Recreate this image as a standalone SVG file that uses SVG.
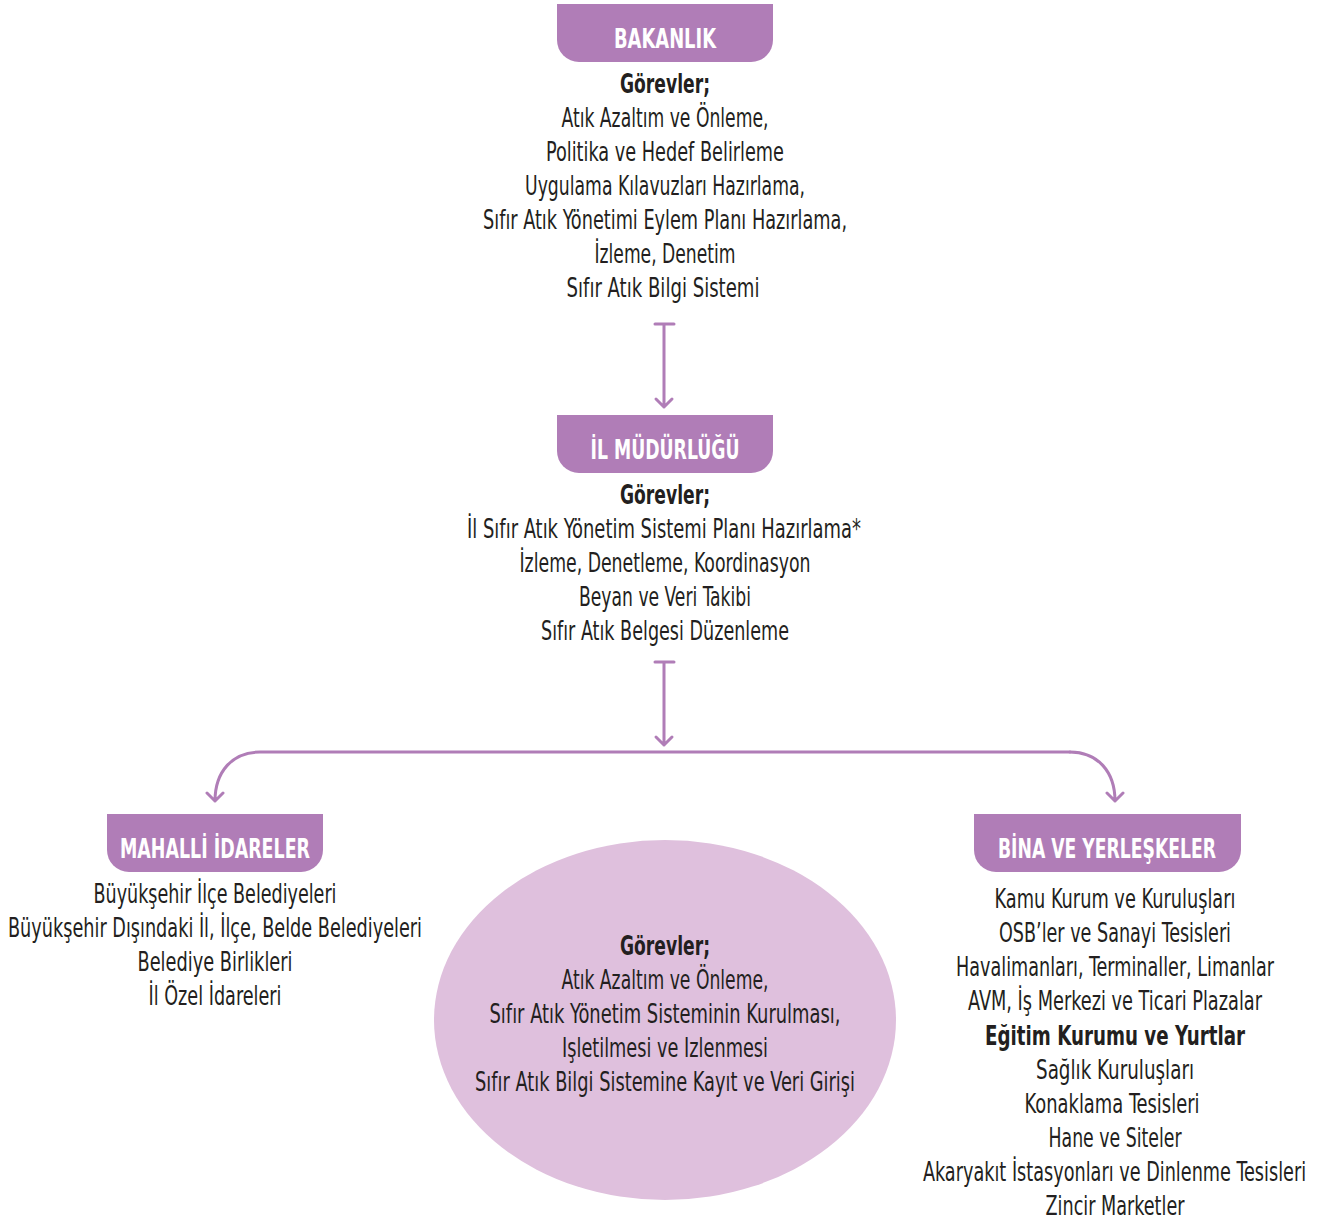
<svg xmlns="http://www.w3.org/2000/svg" width="1317" height="1221" viewBox="0 0 1317 1221">
<style>
.lbl{fill:#B07DB7}
.lt{font-family:"Liberation Sans Narrow","DejaVu Sans Condensed","Liberation Sans",sans-serif;font-weight:bold;font-size:26px;fill:#fff;text-anchor:middle}
.t{font-family:"Liberation Sans Narrow","DejaVu Sans Condensed","Liberation Sans",sans-serif;font-size:26px;fill:#231F20;text-anchor:middle}
.b{font-weight:bold}
.con{fill:none;stroke:#B07DB7;stroke-width:3;stroke-linecap:round;stroke-linejoin:round}
</style>
<rect width="1317" height="1221" fill="#fff"/>
<g id="connectors">
<path class="con" d="M655,324 H674 M664,324 V407 M656,399 L664,407 L672,399"/>
<path class="con" d="M655,662 H674 M664,662 V745 M656,737 L664,745 L672,737"/>
<path class="con" d="M1070,752 H260 C232,752 215,772 215,801 M207,793 L215,801 L223,793"/>
<path class="con" d="M1070,752 C1098,752 1115,772 1115,801 M1107,793 L1115,801 L1123,793"/>
</g>
<g id="bakanlik">
<path class="lbl" d="M557,4 H773 V40 A22,22 0 0 1 751,62 H579 A22,22 0 0 1 557,40 Z"/>
<text class="lt" x="665" y="48" textLength="102" lengthAdjust="spacingAndGlyphs">BAKANLIK</text>
<text class="t b" x="665" y="93" textLength="90" lengthAdjust="spacingAndGlyphs">Görevler;</text>
<text class="t" x="665" y="127" textLength="207" lengthAdjust="spacingAndGlyphs">Atık Azaltım ve Önleme,</text>
<text class="t" x="665" y="161" textLength="238" lengthAdjust="spacingAndGlyphs">Politika ve Hedef Belirleme</text>
<text class="t" x="665" y="195" textLength="280" lengthAdjust="spacingAndGlyphs">Uygulama Kılavuzları Hazırlama,</text>
<text class="t" x="665" y="229" textLength="364" lengthAdjust="spacingAndGlyphs">Sıfır Atık Yönetimi Eylem Planı Hazırlama,</text>
<text class="t" x="665" y="263" textLength="141" lengthAdjust="spacingAndGlyphs">İzleme, Denetim</text>
<text class="t" x="663" y="297" textLength="193" lengthAdjust="spacingAndGlyphs">Sıfır Atık Bilgi Sistemi</text>
</g>
<g id="il-mudurlugu">
<path class="lbl" d="M557,415 H773 V451 A22,22 0 0 1 751,473 H579 A22,22 0 0 1 557,451 Z"/>
<text class="lt" x="665" y="459" textLength="149" lengthAdjust="spacingAndGlyphs">İL MÜDÜRLÜĞÜ</text>
<text class="t b" x="665" y="504" textLength="90" lengthAdjust="spacingAndGlyphs">Görevler;</text>
<text class="t" x="664" y="538" textLength="394" lengthAdjust="spacingAndGlyphs">İl Sıfır Atık Yönetim Sistemi Planı Hazırlama*</text>
<text class="t" x="665" y="572" textLength="291" lengthAdjust="spacingAndGlyphs">İzleme, Denetleme, Koordinasyon</text>
<text class="t" x="665" y="606" textLength="172" lengthAdjust="spacingAndGlyphs">Beyan ve Veri Takibi</text>
<text class="t" x="665" y="640" textLength="248" lengthAdjust="spacingAndGlyphs">Sıfır Atık Belgesi Düzenleme</text>
</g>
<g id="mahalli-idareler">
<path class="lbl" d="M107,814 H323 V850 A22,22 0 0 1 301,872 H129 A22,22 0 0 1 107,850 Z"/>
<text class="lt" x="215" y="858" textLength="190" lengthAdjust="spacingAndGlyphs">MAHALLİ İDARELER</text>
<text class="t" x="215" y="903" textLength="243" lengthAdjust="spacingAndGlyphs">Büyükşehir İlçe Belediyeleri</text>
<text class="t" x="215" y="937" textLength="414" lengthAdjust="spacingAndGlyphs">Büyükşehir Dışındaki İl, İlçe, Belde Belediyeleri</text>
<text class="t" x="215" y="971" textLength="155" lengthAdjust="spacingAndGlyphs">Belediye Birlikleri</text>
<text class="t" x="215" y="1005" textLength="133" lengthAdjust="spacingAndGlyphs">İl Özel İdareleri</text>
</g>
<g id="gorevler-ellipse">
<ellipse cx="665" cy="1020" rx="231" ry="180" fill="#DFC0DD"/>
<text class="t b" x="665" y="955" textLength="90" lengthAdjust="spacingAndGlyphs">Görevler;</text>
<text class="t" x="665" y="989" textLength="207" lengthAdjust="spacingAndGlyphs">Atık Azaltım ve Önleme,</text>
<text class="t" x="665" y="1023" textLength="351" lengthAdjust="spacingAndGlyphs">Sıfır Atık Yönetim Sisteminin Kurulması,</text>
<text class="t" x="665" y="1057" textLength="206" lengthAdjust="spacingAndGlyphs">Işletilmesi ve Izlenmesi</text>
<text class="t" x="665" y="1091" textLength="380" lengthAdjust="spacingAndGlyphs">Sıfır Atık Bilgi Sistemine Kayıt ve Veri Girişi</text>
</g>
<g id="bina-ve-yerleskeler">
<path class="lbl" d="M974,814 H1241 V850 A22,22 0 0 1 1219,872 H996 A22,22 0 0 1 974,850 Z"/>
<text class="lt" x="1107" y="858" textLength="218" lengthAdjust="spacingAndGlyphs">BİNA VE YERLEŞKELER</text>
<text class="t" x="1115" y="908" textLength="241" lengthAdjust="spacingAndGlyphs">Kamu Kurum ve Kuruluşları</text>
<text class="t" x="1115" y="942" textLength="232" lengthAdjust="spacingAndGlyphs">OSB’ler ve Sanayi Tesisleri</text>
<g transform="translate(1115,0) scale(0.75,1)"><text class="t" x="0" y="976" textLength="424" lengthAdjust="spacingAndGlyphs">Havalimanları, Terminaller, Limanlar</text></g>
<g transform="translate(1115,0) scale(0.75,1)"><text class="t" x="0" y="1010" textLength="392" lengthAdjust="spacingAndGlyphs">AVM, İş Merkezi ve Ticari Plazalar</text></g>
<text class="t b" x="1115" y="1045" textLength="260" lengthAdjust="spacingAndGlyphs">Eğitim Kurumu ve Yurtlar</text>
<text class="t" x="1115" y="1079" textLength="158" lengthAdjust="spacingAndGlyphs">Sağlık Kuruluşları</text>
<text class="t" x="1112" y="1113" textLength="175" lengthAdjust="spacingAndGlyphs">Konaklama Tesisleri</text>
<text class="t" x="1115" y="1147" textLength="133" lengthAdjust="spacingAndGlyphs">Hane ve Siteler</text>
<g transform="translate(1114.5,0) scale(0.75,1)"><text class="t" x="0" y="1181" textLength="511" lengthAdjust="spacingAndGlyphs">Akaryakıt İstasyonları ve Dinlenme Tesisleri</text></g>
<text class="t" x="1115" y="1215" textLength="139" lengthAdjust="spacingAndGlyphs">Zincir Marketler</text>
</g>
</svg>
